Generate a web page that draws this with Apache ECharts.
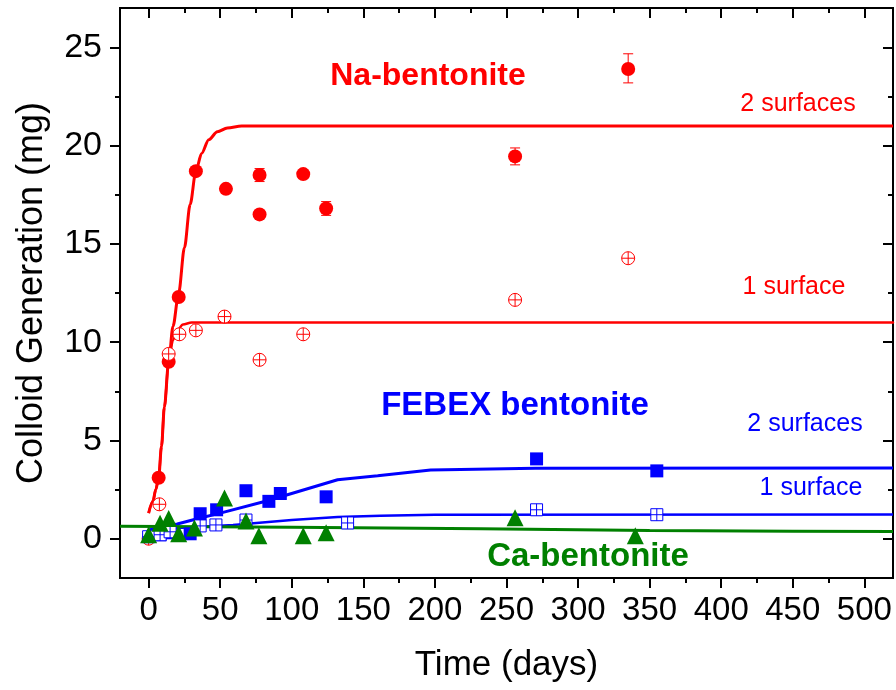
<!DOCTYPE html>
<html><head><meta charset="utf-8">
<script src="https://cdn.jsdelivr.net/npm/echarts@6/dist/echarts.min.js"></script>
<style>html,body{margin:0;padding:0;background:#fff}#c{width:896px;height:690px}</style>
</head><body><div id="c"></div>
<script>
// ---------- tick labels ----------
const xMajorTicks = [0, 50, 100, 150, 200, 250, 300, 350, 400, 450, 500];
const xMinorTicks = [25, 75, 125, 175, 225, 275, 325, 375, 425, 475];
const yMajorTicks = [0, 5, 10, 15, 20, 25];
const yMinorTicks = [2.5, 7.5, 12.5, 17.5, 22.5];

// ---------- Na-bentonite ----------
const naTwoSurfFit = [[0,1.3],[3,1.9],[5,2.5],[7,3.1],[9,4.7],[11,6.7],[14,9.0],[17,10.8],[21,12.5],[25,14.8],[29,17.0],[33,18.7],[37,19.6],[42,20.3],[48,20.7],[55,20.9],[65,21.0],[520,21.0]];
const naOneSurfFit = [[0,1.3],[3,1.9],[5,2.5],[7,3.1],[9,4.7],[11,6.7],[14,9.0],[17,10.1],[20,10.6],[24,10.9],[30,11.0],[520,11.0]];
const naTwoSurfData = [[7,3.1],[14,9.0],[21,12.3],[33,18.7],[54,17.8],[77.5,18.5],[77.5,16.5],[108,18.55],[124,16.8],[256,19.45],[335,23.9]];
const naTwoSurfErr = [[77.5,18.5,0.33],[124,16.8,0.35],[256,19.45,0.43],[335,23.93,0.74]];
const naOneSurfData = [[0,0],[7.5,1.75],[14,9.4],[21.5,10.4],[33,10.6],[53,11.3],[77.5,9.1],[108,10.4],[256,12.15],[335,14.27]];

// ---------- FEBEX bentonite ----------
const febexTwoSurfFit = [[0,0.45],[20,0.75],[36,1.05],[50,1.3],[83,1.93],[132,3.0],[160,3.2],[197,3.5],[270,3.58],[520,3.6]];
const febexOneSurfFit = [[0,0.3],[20,0.55],[59,0.7],[100,0.95],[132,1.1],[162,1.17],[200,1.22],[520,1.23]];
const febexTwoSurfData = [[8,0.2],[15,0.3],[29,0.25],[36,1.27],[47.5,1.47],[68,2.44],[84,1.9],[92,2.3],[124,2.13],[271,4.06],[355,3.45]];
const febexOneSurfData = [[0,0.1],[8,0.2],[15,0.35],[36,0.65],[47,0.7],[68,0.95],[139,0.8],[271,1.47],[355,1.22]];

// ---------- Ca-bentonite ----------
const caFit = [[-20,0.63],[100,0.58],[232,0.5],[350,0.42],[450,0.38],[520,0.36]];
const caData = [[0,0.2],[8,0.78],[14,1.03],[21,0.25],[32,0.55],[53,2.07],[68,0.9],[77,0.15],[108,0.15],[124,0.3],[256,1.07],[340,0.15]];

// ---------- annotations ----------
const annotations = [
  {text:'Na-bentonite', x:428, y:76, color:'#ff0000', bold:true, size:32},
  {text:'2 surfaces', x:798, y:104, color:'#ff0000', bold:false, size:25},
  {text:'1 surface', x:794, y:287, color:'#ff0000', bold:false, size:25},
  {text:'FEBEX bentonite', x:515, y:406, color:'#0000ff', bold:true, size:33},
  {text:'2 surfaces', x:805, y:424, color:'#0000ff', bold:false, size:25},
  {text:'1 surface', x:811, y:488, color:'#0000ff', bold:false, size:25},
  {text:'Ca-bentonite', x:588, y:557, color:'#008000', bold:true, size:33}
];

const FONT = "'Liberation Sans', Arial, Helvetica, sans-serif";
const RED = '#ff0000', BLUE = '#0000ff', GREEN = '#008000';
const circleCross = 'path://M0,10A10,10,0,1,1,20,10A10,10,0,1,1,0,10ZM10,0L10,20M0,10L20,10';
const squareCross = 'path://M0,0L20,0L20,20L0,20ZM10,0L10,20M0,10L20,10';

function xAx(pos, ticks, len, inside, labels, extra) {
  return Object.assign({
    type:'value', position:pos, min:-20, max:520,
    axisLine:{show:true, onZero:false, lineStyle:{color:'#000', width:2}},
    axisTick:{show:true, customValues:ticks, length:len, inside:inside, lineStyle:{color:'#000', width:2}},
    axisLabel:labels ? {show:true, customValues:ticks, color:'#000', fontSize:33, fontFamily:FONT, margin:16} : {show:false},
    splitLine:{show:false}
  }, extra || {});
}
function yAx(pos, ticks, len, inside, labels, extra) {
  return Object.assign({
    type:'value', position:pos, min:-2, max:27,
    axisLine:{show:true, onZero:false, lineStyle:{color:'#000', width:2}},
    axisTick:{show:true, customValues:ticks, length:len, inside:inside, lineStyle:{color:'#000', width:2}},
    axisLabel:labels ? {show:true, customValues:ticks, color:'#000', fontSize:34, fontFamily:FONT, margin:18} : {show:false},
    splitLine:{show:false}
  }, extra || {});
}

function errRender(params, api) {
  const x = api.value(0), y = api.value(1), e = api.value(2);
  const t = api.coord([x, y + e]), b = api.coord([x, y - e]);
  const c = 5, col = api.visual('color');
  const st = {stroke: col, lineWidth: 1};
  return {type:'group', children:[
    {type:'line', shape:{x1:t[0], y1:t[1], x2:b[0], y2:b[1]}, style:st},
    {type:'line', shape:{x1:t[0]-c, y1:t[1], x2:t[0]+c, y2:t[1]}, style:st},
    {type:'line', shape:{x1:b[0]-c, y1:b[1], x2:b[0]+c, y2:b[1]}, style:st}
  ]};
}

function fitLine(data, color, width, smooth) {
  return {type:'line', data:data, symbol:'none', smooth:smooth, smoothMonotone:'x',
    lineStyle:{color:color, width:width}, itemStyle:{color:color}, z:2, silent:true};
}
function scatter(data, symbol, size, fill, stroke, bw) {
  return {type:'scatter', data:data, symbol:symbol, symbolSize:size,
    itemStyle:{color:fill, borderColor:stroke, borderWidth:bw, opacity:1}, z:3, silent:true};
}

const chart = echarts.init(document.getElementById('c'), null, {renderer:'canvas'});
chart.setOption({
  animation:false,
  backgroundColor:'#fff',
  grid:{left:120, right:3, top:8, bottom:112, containLabel:false},
  xAxis:[
    xAx('bottom', xMajorTicks, 10, false, true, {name:'Time (days)', nameLocation:'middle', nameGap:70,
      nameTextStyle:{fontSize:35, fontFamily:FONT, color:'#000'}}),
    xAx('bottom', xMinorTicks, 5, false, false),
    xAx('top', xMajorTicks, 10, true, false),
    xAx('top', xMinorTicks, 5, true, false)
  ],
  yAxis:[
    yAx('left', yMajorTicks, 10, false, true, {name:'Colloid Generation (mg)', nameLocation:'middle', nameGap:70,
      nameTextStyle:{fontSize:36, fontFamily:FONT, color:'#000'}}),
    yAx('left', yMinorTicks, 5, false, false),
    yAx('right', yMajorTicks, 10, true, false),
    yAx('right', yMinorTicks, 5, true, false)
  ],
  graphic: annotations.map(a => ({
    type:'text', x:a.x, y:a.y, z:10, silent:true,
    style:{text:a.text, fill:a.color, font:(a.bold ? 'bold ' : '') + a.size + 'px ' + FONT,
      textAlign:'center', textVerticalAlign:'middle'}
  })),
  series:[
    fitLine(naTwoSurfFit, RED, 3, 0.3),
    fitLine(naOneSurfFit, RED, 2.5, 0.3),
    {type:'custom', renderItem:errRender, data:naTwoSurfErr, itemStyle:{color:RED}, z:3, silent:true},
    scatter(naTwoSurfData, 'circle', 14, RED, RED, 0),
    scatter(naOneSurfData, circleCross, 13, '#ffffff', RED, 1),
    fitLine(febexTwoSurfFit, BLUE, 3, false),
    fitLine(febexOneSurfFit, BLUE, 2.5, false),
    scatter(febexTwoSurfData, 'rect', 13, BLUE, BLUE, 0),
    scatter(febexOneSurfData, squareCross, 12, '#ffffff', BLUE, 1),
    fitLine(caFit, GREEN, 3, false),
    scatter(caData, 'triangle', 17, GREEN, GREEN, 0)
  ]
});
</script>
</body></html>
